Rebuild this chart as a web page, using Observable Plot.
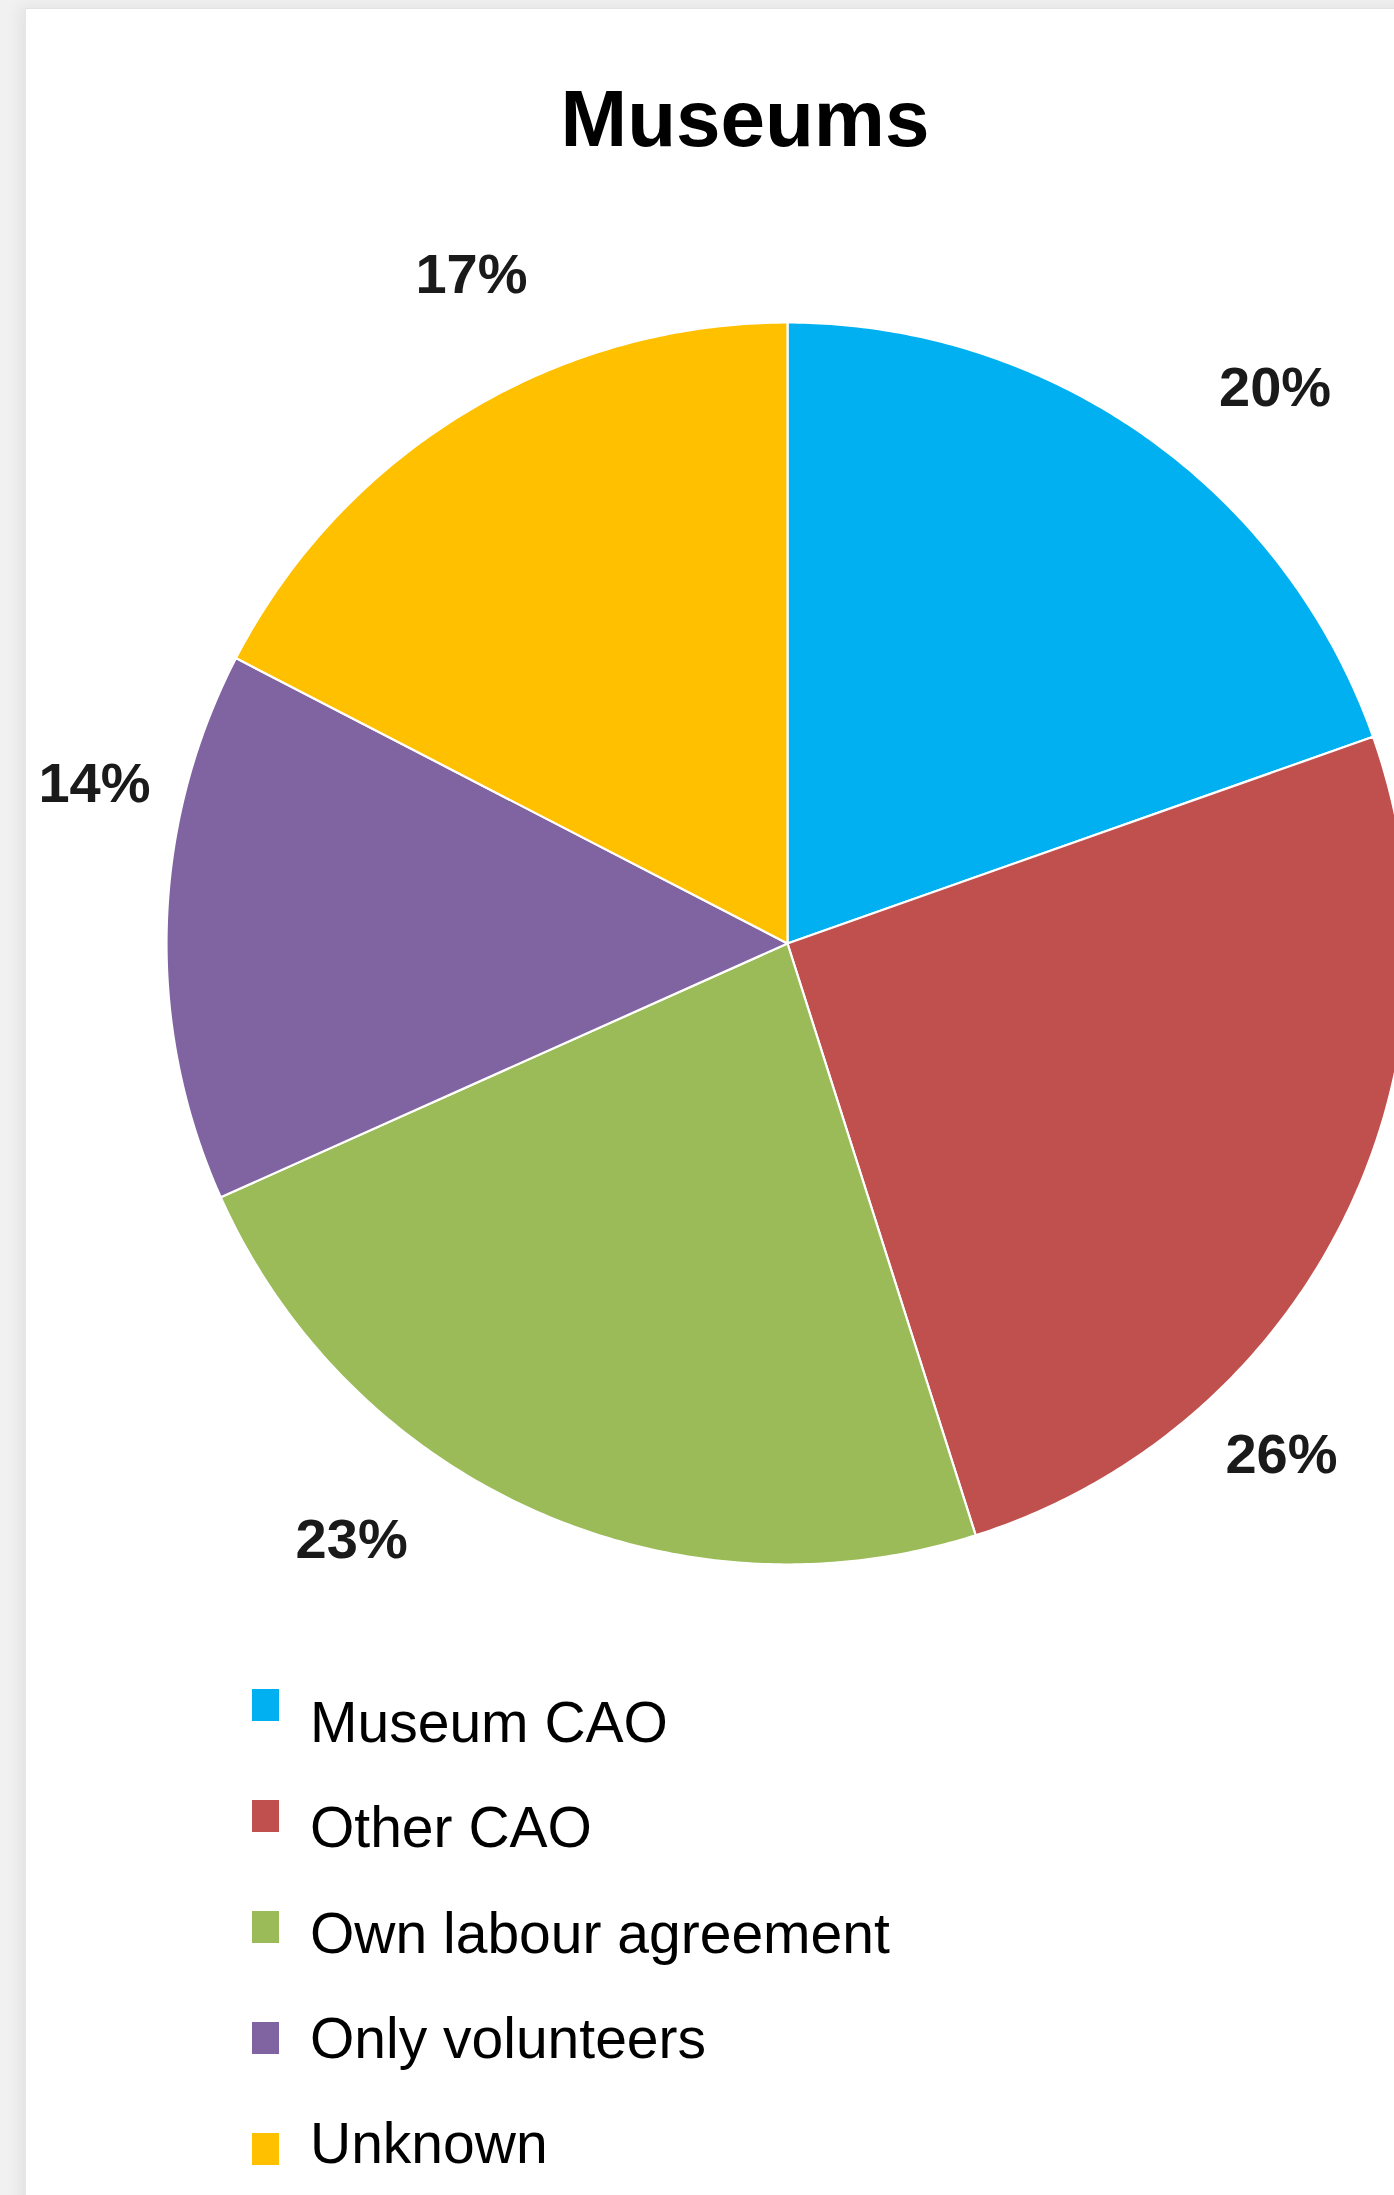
<!DOCTYPE html>
<html>
<head>
<meta charset="utf-8">
<script src="https://cdn.jsdelivr.net/npm/d3@7"></script>
<script src="https://cdn.jsdelivr.net/npm/@observablehq/plot@0.6"></script>
<style>
  html, body { margin: 0; padding: 0; }
  body { width: 1394px; height: 2195px; overflow: hidden; background: #f1f1f1; position: relative; font-family: "Liberation Sans", Arial, sans-serif; }
  #card { position: absolute; left: 25px; top: 8px; width: 1500px; height: 2300px; background: #fff;
          border-top: 1px solid #e3e3e3; border-left: 1px solid #e6e6e6; box-shadow: -6px -2px 14px rgba(0,0,0,0.06); }
  #title { position: absolute; left: 345px; width: 800px; top: 79px; text-align: center;
           font: bold 80px/80px "Liberation Sans", Arial, sans-serif; color: #000; }
  #chart { position: absolute; left: 0; top: 200px; }
  #legend { position: absolute; left: 0; top: 1640px; width: 1394px; height: 555px; }
  .sw { position: absolute; left: 252px; width: 27px; height: 32px; }
  .lab { position: absolute; left: 310px; font: 57px/57px "Liberation Sans", Arial, sans-serif; color: #000; white-space: nowrap; }
</style>
</head>
<body>
<div id="card"></div>
<div id="title">Museums</div>
<div id="chart"></div>
<div id="legend"></div>
<script>
// ---- data (shares; labels as printed) ----
const categories = ["Museum CAO", "Other CAO", "Own labour agreement", "Only volunteers", "Unknown"];
const shares = [19.6, 25.5, 23.2, 14.3, 17.4];
const labels = ["20%", "26%", "23%", "14%", "17%"];
const colors = ["#00B0F0", "#C0504D", "#9BBB59", "#8064A2", "#FFC000"];

// ---- geometry derived from the data (unit circle, angle clockwise from 12 o'clock) ----
const total = d3.sum(shares);
const cum = d3.cumsum(shares);
const slices = categories.map((c, i) => ({
  category: c,
  start: ((cum[i] - shares[i]) / total) * 2 * Math.PI,
  end: (cum[i] / total) * 2 * Math.PI,
  label: labels[i]
}));

const pts = [];
for (const s of slices) {
  pts.push({category: s.category, x: 0, y: 0});
  const n = Math.max(2, Math.ceil((s.end - s.start) / (Math.PI / 360)));
  for (let k = 0; k <= n; k++) {
    const a = s.start + (s.end - s.start) * k / n;
    pts.push({category: s.category, x: Math.sin(a), y: Math.cos(a)});
  }
  pts.push({category: s.category, x: 0, y: 0});
}

// label placement: outside the pie, slightly clockwise of the slice middle,
// slid along a ring when it would leave the label area
const rhoOut = 1.19, rhoSide = 1.145, nudge = 6 * Math.PI / 180;
const xMin = -1.116, xMax = 0.7955, yMin = -0.961;
const labelData = slices.map(s => {
  const a = (s.start + s.end) / 2 + nudge;
  let x = rhoOut * Math.sin(a), y = rhoOut * Math.cos(a);
  if (x > xMax || x < xMin) {
    x = Math.max(xMin, Math.min(xMax, x));
    y = Math.sign(y) * Math.sqrt(rhoSide * rhoSide - x * x);
  } else if (y < yMin) {
    y = yMin;
    x = Math.sign(x) * Math.sqrt(rhoOut * rhoOut - y * y);
  }
  return {label: s.label, x, y};
});

const chart = Plot.plot({
  width: 1394,
  height: 1440,
  margin: 0,
  style: {background: "transparent", overflow: "visible"},
  x: {domain: [-1, 1], range: [166, 1408], axis: null},
  y: {domain: [-1, 1], range: [1364, 122], axis: null},
  color: {domain: categories, range: colors},
  marks: [
    Plot.line(pts, {x: "x", y: "y", z: "category", fill: "category", stroke: "white", strokeWidth: 2.2, strokeLinejoin: "round"}),
    Plot.text(labelData, {x: "x", y: "y", text: "label", fontSize: 56, fontWeight: "bold",
      fontFamily: "'Liberation Sans', Arial, sans-serif", fill: "#1a1a1a"})
  ]
});
document.getElementById("chart").appendChild(chart);

// ---- legend ----
const legend = document.getElementById("legend");
const colorOf = chart.scale("color");
categories.forEach((c, i) => {
  const sw = document.createElement("div");
  sw.className = "sw";
  sw.style.top = (49 + 111 * i) + "px";
  sw.style.background = colorOf.apply(c);
  const lab = document.createElement("div");
  lab.className = "lab";
  lab.style.top = (54 + 105.25 * i) + "px";
  lab.textContent = c;
  legend.appendChild(sw);
  legend.appendChild(lab);
});
</script>
</body>
</html>
